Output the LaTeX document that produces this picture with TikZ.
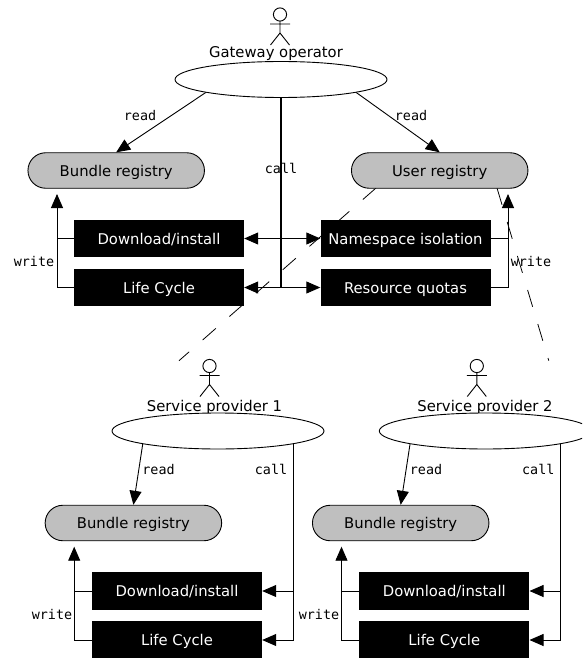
\documentclass[tikz,border=0pt]{standalone}
\usepackage{fontspec}
\setmainfont{DejaVu Sans}
\setmonofont{DejaVu Sans Mono}
\usetikzlibrary{arrows.meta,shapes.geometric,shapes.misc}
\tikzset{
  every node/.style={font=\fontsize{14.8}{17}\selectfont,text height=11.5pt,text depth=0.5pt},
  uc/.style={ellipse,draw=black,fill=white,line width=.9pt,minimum width=212pt,minimum height=36pt,inner sep=0pt},
  registry/.style={rounded rectangle,draw=black,fill=black!25,line width=.9pt,minimum width=176.5pt,minimum height=35.5pt,inner sep=0pt},
  blackbox/.style={rectangle,draw=none,fill=black,text=white,minimum width=170pt,minimum height=37.5pt,inner sep=0pt},
  lbl/.style={font=\fontsize{13.4}{16}\ttfamily,inner sep=0pt},
  caption/.style={inner sep=0pt},
  arr/.style={line width=.9pt,-{Triangle[length=14pt,width=12pt]}},
  wire/.style={line width=.9pt},
  dep/.style={line width=.8pt,dash pattern=on 17.5pt off 18pt},
  stickman/.pic={
    \draw[line width=.9pt] (0,0) circle (6.6pt);
    \draw[line width=.9pt] (0,6.6) -- (0,18.5) (-10,9.5) -- (10,9.5) (-9.5,30.5) -- (0,18.5) -- (9.5,30.5);
  }
}
\begin{document}
\begin{tikzpicture}[x=1pt,y=-1pt]
\clip (0,0) rectangle (582,658);
\fill[white] (0,0) rectangle (582,658);
% dashed dependency lines (under everything)
\coordinate (d1) at (179,360.7);
\coordinate (d2) at (548.8,360.7);
\coordinate (us1) at (376,188);
\coordinate (us2) at (497,188);
\draw[dep] (us1) -- (d1);
\draw[dep] (us2) -- (d2);
% Gateway operator
\pic at (280,14.5) {stickman};
\node[caption] (gwl) at (276,52.5) {Gateway operator};
\node[uc] (gw) at (281,79.5) {};
\node[registry] (br) at (116.2,170.5) {Bundle registry};
\node[registry] (ur) at (439.7,170.5) {User registry};
\node[blackbox] (dl) at (159,238.5) {Download/install};
\node[blackbox] (lc) at (159,287.5) {Life Cycle};
\node[blackbox] (ns) at (405.5,238.5) {Namespace isolation};
\node[blackbox] (rq) at (405.5,287.5) {Resource quotas};
\draw[arr] (gw.south west) -- (br.north);
\draw[arr] (gw.south east) -- (ur.north);
\node[lbl] (r1) at (140,115.5) {read};
\node[lbl] (r2) at (411,115.5) {read};
\draw[wire,line width=1.5pt] (gw.south) -- (gw.south |- lc.east);
\draw[arr] (gw.south |- dl.east) -- (dl.east);
\draw[arr] (gw.south |- lc.east) -- (lc.east);
\draw[arr] (gw.south |- ns.west) -- (ns.west);
\draw[arr] (gw.south |- rq.west) -- (rq.west);
\node[lbl] (c0) at (281,168) {call};
\coordinate (wl) at (57,194);
\coordinate (wr) at (508,194);
\draw[arr] (lc.west) -| (wl);
\draw[wire] (dl.west) -- (dl.west -| wl);
\draw[arr] (rq.east) -| (wr);
\draw[wire] (ns.east) -- (ns.east -| wr);
\node[lbl] (w1) at (34,260.5) {write};
\node[lbl] (w2) at (531,260.5) {write};
% Service provider 1
\pic at (209.5,366) {stickman};
\node[caption] (sl1) at (214.5,406) {Service provider 1};
\node[uc] (s1) at (218,431) {};
\node[registry] (b1) at (133.4,523) {Bundle registry};
\node[blackbox] (d1b) at (177,591) {Download/install};
\node[blackbox] (l1b) at (177,640) {Life Cycle};
\draw[arr] (s1.south west) -- (b1.north);
\node[lbl] (r3) at (158.5,469) {read};
\node[lbl] (c1) at (271,469) {call};
\draw[arr] (s1.south east) |- (l1b.east);
\draw[arr] (s1.south east |- d1b.east) -- (d1b.east);
\coordinate (w1t) at (74.2,546.7);
\draw[arr] (l1b.west) -| (w1t);
\draw[wire] (d1b.west) -- (d1b.west -| w1t);
\node[lbl] (w3) at (52,613.5) {write};
% Service provider 2
\pic at (476.8,366) {stickman};
\node[caption] (sl2) at (485,406) {Service provider 2};
\node[uc] (s2) at (485.3,431) {};
\node[registry] (b2) at (400.7,523) {Bundle registry};
\node[blackbox] (d2b) at (444.3,591) {Download/install};
\node[blackbox] (l2b) at (444.3,640) {Life Cycle};
\draw[arr] (s2.south west) -- (b2.north);
\node[lbl] (r4) at (426,469) {read};
\node[lbl] (c2) at (538.3,469) {call};
\draw[arr] (s2.south east) |- (l2b.east);
\draw[arr] (s2.south east |- d2b.east) -- (d2b.east);
\coordinate (w2t) at (341.5,546.7);
\draw[arr] (l2b.west) -| (w2t);
\draw[wire] (d2b.west) -- (d2b.west -| w2t);
\node[lbl] (w4) at (319,613.5) {write};
\end{tikzpicture}
\end{document}
